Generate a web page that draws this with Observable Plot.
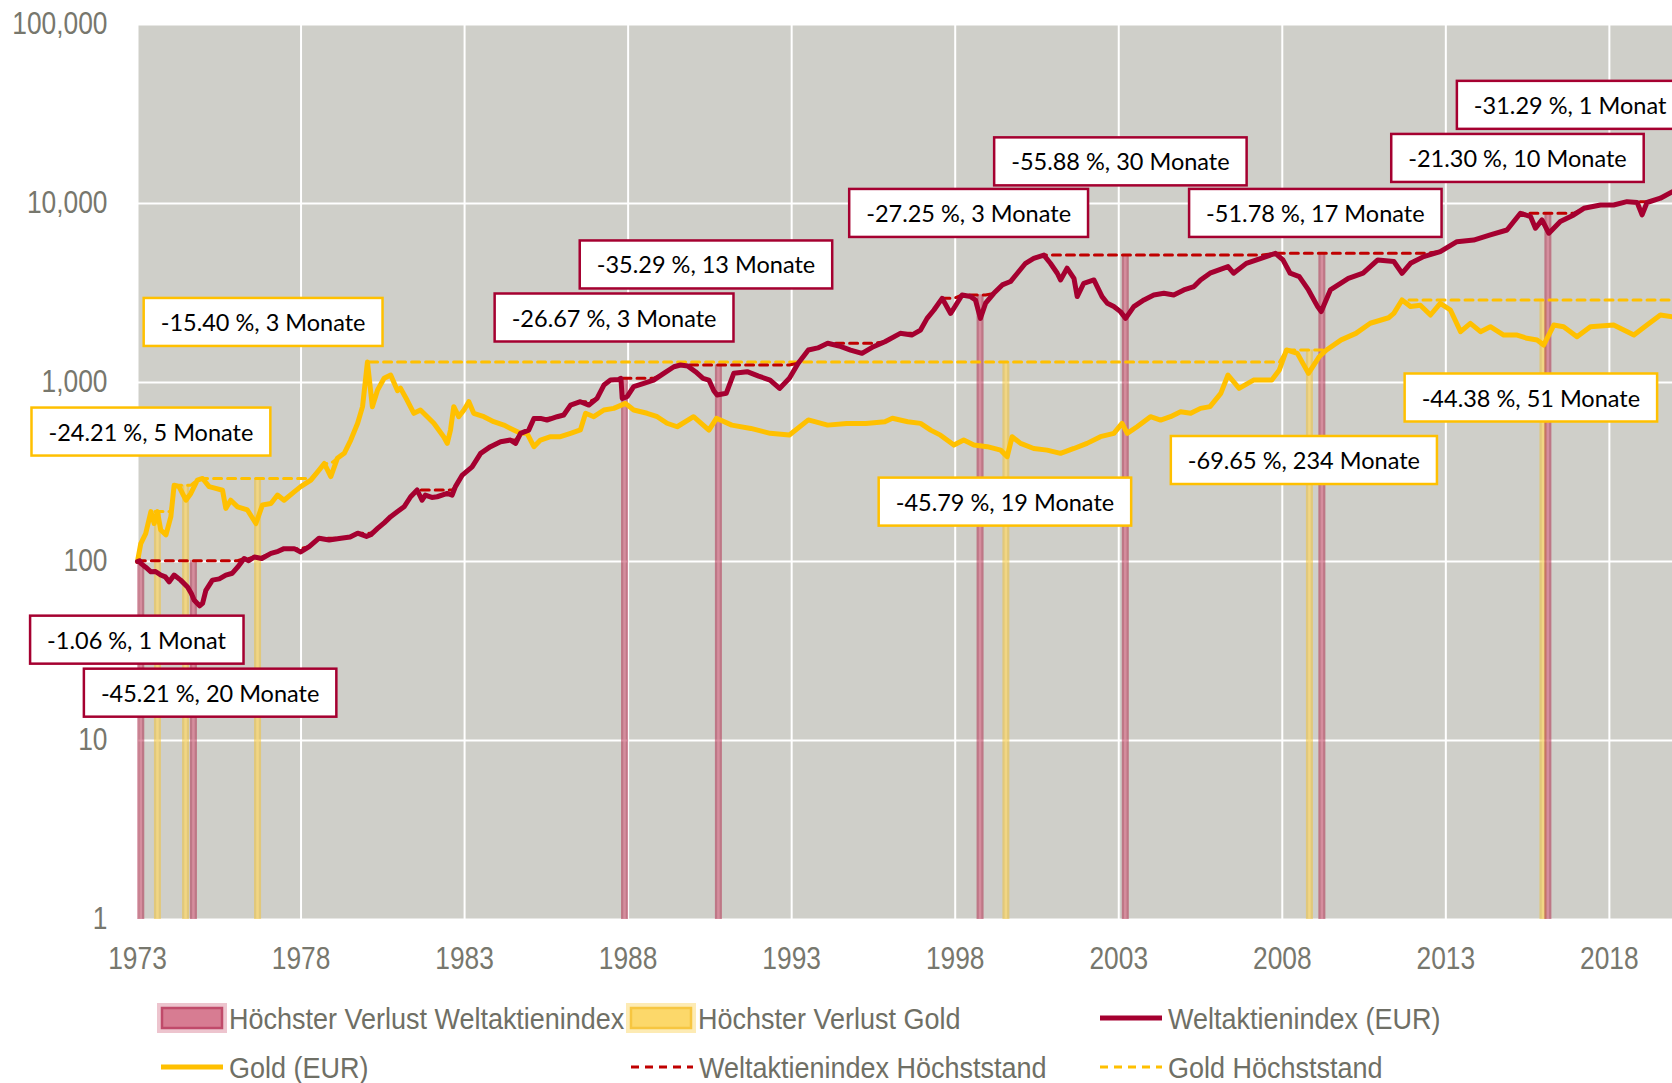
<!DOCTYPE html>
<html><head><meta charset="utf-8">
<script src="https://cdn.jsdelivr.net/npm/d3@7"></script>
<script src="https://cdn.jsdelivr.net/npm/@observablehq/plot@0.6"></script>
<style>
html,body{margin:0;padding:0;background:#fff;overflow:hidden;}
#chart svg{display:block;}
#legend{display:block;}
</style></head><body>
<div id="chart"></div>
<svg id="legend" width="1672" height="93"></svg>
<script>
// ---------- DATA ----------
const xTicks = [1973, 1978, 1983, 1988, 1993, 1998, 2003, 2008, 2013, 2018];
const yTicks = [1, 10, 100, 1000, 10000, 100000];

const worldYears = [1973.00,1973.06,1973.10,1973.25,1973.41,1973.55,1973.71,1973.85,1973.97,1974.12,1974.32,1974.53,1974.65,1974.73,1974.83,1974.90,1974.99,1975.09,1975.29,1975.50,1975.70,1975.90,1976.06,1976.26,1976.40,1976.57,1976.80,1977.08,1977.30,1977.48,1977.79,1977.99,1978.25,1978.55,1978.86,1979.22,1979.50,1979.73,1980.00,1980.13,1980.34,1980.55,1980.74,1980.95,1981.15,1981.35,1981.55,1981.70,1981.80,1982.00,1982.16,1982.47,1982.62,1982.72,1982.93,1983.23,1983.49,1983.79,1984.10,1984.40,1984.56,1984.71,1984.96,1985.12,1985.32,1985.52,1985.83,1986.03,1986.24,1986.54,1986.80,1987.05,1987.26,1987.46,1987.71,1987.78,1987.82,1987.97,1988.17,1988.48,1988.78,1989.09,1989.40,1989.60,1989.82,1990.06,1990.29,1990.47,1990.62,1990.72,1991.00,1991.23,1991.64,1991.99,1992.34,1992.63,1992.93,1993.20,1993.51,1993.80,1994.10,1994.45,1994.80,1995.15,1995.50,1995.85,1996.32,1996.67,1996.94,1997.14,1997.35,1997.60,1997.86,1997.96,1998.21,1998.47,1998.62,1998.77,1998.93,1999.18,1999.44,1999.69,1999.90,2000.15,2000.40,2000.71,2000.91,2001.12,2001.22,2001.42,2001.63,2001.73,2001.93,2002.24,2002.49,2002.65,2002.85,2003.05,2003.21,2003.46,2003.77,2004.07,2004.38,2004.68,2004.99,2005.30,2005.50,2005.79,2006.34,2006.51,2006.90,2007.35,2007.79,2008.02,2008.24,2008.52,2008.80,2009.08,2009.19,2009.47,2010.02,2010.47,2010.92,2011.41,2011.66,2011.92,2012.32,2012.83,2013.34,2013.85,2014.36,2014.87,2015.28,2015.59,2015.74,2015.94,2016.15,2016.50,2016.91,2017.22,2017.73,2018.13,2018.54,2018.85,2019.00,2019.15,2019.56,2019.93];
const worldValues = [100,101,97.6,93,87.6,88,84,82,77,84,78.7,72,66,61,58.3,56.5,58.3,69,78.7,80,84,86,93,104,101,106,104,111,114,118,118,113,121,135,132,135,137,144,138,141,153,165,178,190,202,230,251,220,235,228,230,240,235,262,304,338,402,438,467,477,457,520,542,630,630,617,644,658,748,781,748,815,968,1032,1040,1055,815,834,948,989,1032,1125,1225,1253,1238,1149,1055,1032,900,851,870,1125,1149,1085,1032,927,1055,1280,1518,1560,1656,1600,1518,1455,1585,1690,1882,1840,1963,2281,2540,2953,2432,2600,3083,3020,2890,2281,2773,3150,3509,3664,4078,4636,4943,5150,4636,4078,3741,4350,3820,3020,3584,3741,3020,2773,2656,2488,2281,2656,2892,3083,3150,3083,3289,3436,3741,4080,4440,4080,4630,4940,5270,4840,4080,3905,3290,2655,2490,3290,3820,4080,4840,4740,4075,4636,5050,5385,6120,6250,6670,7110,8820,8450,7280,8100,6820,7930,8630,9400,9810,9810,10240,10130,8630,10130,10700,11650];

const goldYears = [1973.00,1973.10,1973.25,1973.41,1973.51,1973.61,1973.71,1973.87,1974.02,1974.12,1974.27,1974.48,1974.63,1974.83,1974.99,1975.19,1975.39,1975.60,1975.70,1975.85,1976.06,1976.36,1976.62,1976.82,1977.08,1977.28,1977.48,1977.79,1977.99,1978.30,1978.55,1978.71,1978.91,1979.11,1979.32,1979.52,1979.73,1979.88,1980.03,1980.18,1980.34,1980.54,1980.74,1980.95,1981.04,1981.24,1981.45,1981.65,1981.86,1982.06,1982.21,1982.36,1982.47,1982.57,1982.67,1982.82,1982.98,1983.13,1983.28,1983.59,1983.89,1984.20,1984.50,1984.71,1984.91,1985.12,1985.32,1985.63,1985.93,1986.24,1986.54,1986.70,1986.95,1987.26,1987.56,1987.92,1988.17,1988.58,1988.89,1989.19,1989.50,1990.00,1990.47,1990.70,1991.17,1991.75,1992.34,1992.93,1993.51,1994.10,1994.68,1995.27,1995.85,1996.08,1996.55,1996.94,1997.25,1997.55,1997.96,1998.26,1998.57,1998.98,1999.39,1999.59,1999.74,2000.00,2000.40,2000.81,2001.22,2001.63,2002.03,2002.44,2002.85,2003.10,2003.26,2003.56,2003.97,2004.28,2004.58,2004.89,2005.20,2005.50,2005.79,2006.12,2006.34,2006.68,2007.12,2007.68,2007.91,2008.13,2008.46,2008.80,2009.13,2009.35,2009.80,2010.25,2010.69,2011.25,2011.41,2011.66,2011.92,2012.22,2012.53,2012.83,2013.14,2013.45,2013.75,2014.06,2014.36,2014.77,2015.18,2015.48,2015.79,2015.99,2016.30,2016.60,2017.01,2017.42,2018.13,2018.75,2019.15,2019.56,2019.93];
const goldValues = [100,126,143,190,163,190,150,141,178,267,262,220,240,285,291,262,256,250,198,220,202,194,163,207,211,235,220,245,262,285,324,353,298,377,402,477,592,733,1300,733,908,1055,1101,900,930,798,673,702,644,592,543,498,457,543,733,644,702,781,673,644,604,578,543,520,520,438,477,498,498,520,543,673,644,702,717,764,702,673,644,592,566,644,542,631,578,554,520,509,618,578,591,591,604,631,604,591,542,508,447,477,447,438,419,385,498,457,428,419,402,428,457,498,520,591,520,566,644,617,644,687,673,717,733,869,1101,927,1032,1032,1175,1520,1455,1125,1393,1520,1730,1882,2143,2300,2432,2892,2656,2700,2383,2770,2540,1923,2140,1923,2050,1842,1842,1766,1727,1619,2095,2050,1803,2050,2095,1842,2095,2383,2330];

const worldDrawdownYears = [1973.10, 1974.71, 1987.89, 1990.76, 1998.76, 2003.20, 2009.21, 2016.12];
const worldDrawdownTops  = [101, 101, 1055, 1253, 3083, 5150, 5270, 8820];
const goldDrawdownYears  = [1973.61, 1974.47, 1976.67, 1999.55, 2008.83, 2015.97];
const goldDrawdownTops   = [190, 267, 291, 1300, 1520, 2892];

const annotationLabels = ["-15.40 %, 3 Monate","-24.21 %, 5 Monate","-26.67 %, 3 Monate","-35.29 %, 13 Monate","-27.25 %, 3 Monate","-55.88 %, 30 Monate","-51.78 %, 17 Monate","-21.30 %, 10 Monate","-31.29 %, 1 Monat","-44.38 %, 51 Monate","-69.65 %, 234 Monate","-45.79 %, 19 Monate","-1.06 %, 1 Monat","-45.21 %, 20 Monate"];
const annotationSeries = ["gold","gold","world","world","world","world","world","world","world","gold","gold","gold","world","world"];
const annotationYears  = [1976.84, 1973.41, 1987.57, 1990.38, 1998.41, 2003.05, 2009.01, 2015.19, 2016.80, 2015.60, 2008.66, 1999.52, 1972.97, 1975.22];
const annotationValues = [2138, 522, 2264, 4479, 8690, 16870, 8690, 17630, 34900, 809, 362, 212, 35.9, 18.15];

const legendLabels = ["Höchster Verlust Weltaktienindex","Höchster Verlust Gold","Weltaktienindex (EUR)","Gold (EUR)","Weltaktienindex Höchststand","Gold Höchststand"];

// ---------- BUILD ----------
const CRIMSON = "#a50030", GOLD = "#ffc000", RED = "#c00000";
const SANS = "'Liberation Sans', Arial, sans-serif";
const AXIS_K = 0.85, LEGEND_K = 0.9;

const world = worldYears.map((y, i) => ({year: y, value: worldValues[i]}));
const gold = goldYears.map((y, i) => ({year: y, value: goldValues[i]}));
function runningMax(arr) {
  let m = -Infinity;
  return arr.map(d => { m = Math.max(m, d.value); return {year: d.year, value: m}; });
}
const worldPeak = runningMax(world);
const goldPeak = runningMax(gold);
const worldDD = worldDrawdownYears.map((y, i) => ({year: y, top: worldDrawdownTops[i]}));
const goldDD = goldDrawdownYears.map((y, i) => ({year: y, top: goldDrawdownTops[i]}));
const annotations = annotationLabels.map((t, i) => ({label: t, series: annotationSeries[i], year: annotationYears[i], value: annotationValues[i]}));

const chart = Plot.plot({
  width: 1672,
  height: 990,
  marginLeft: 137,
  marginRight: 0,
  marginTop: 24,
  marginBottom: 71,
  style: {background: "white", fontFamily: SANS, fontSize: "31px", color: "#77776d"},
  x: {domain: [1973, 2019.93], label: null},
  y: {type: "log", domain: [1, 100000], label: null},
  marks: [
    Plot.frame({fill: "#cfcfc9", stroke: null}),
    Plot.gridX(xTicks, {stroke: "white", strokeOpacity: 1, strokeWidth: 2}),
    Plot.gridY(yTicks, {stroke: "white", strokeOpacity: 1, strokeWidth: 2}),
    Plot.axisX(xTicks, {tickSize: 0, tickPadding: 27, tickFormat: d => String(d), fontSize: 31, label: null}),
    Plot.axisY(yTicks, {tickSize: 0, tickPadding: 30, tickFormat: d3.format(","), fontSize: 31, label: null}),
    // drawdown bars
    Plot.ruleX(goldDD, {x: "year", y1: 1, y2: "top", stroke: "#f0c23a", strokeOpacity: 0.55, strokeWidth: 7}),
    Plot.ruleX(goldDD, {x: "year", y1: 1, y2: "top", stroke: "#fbe08a", strokeOpacity: 0.6, strokeWidth: 2.5}),
    Plot.ruleX(worldDD, {x: "year", y1: 1, y2: "top", stroke: "#b0304f", strokeOpacity: 0.55, strokeWidth: 7}),
    Plot.ruleX(worldDD, {x: "year", y1: 1, y2: "top", stroke: "#e8a0b0", strokeOpacity: 0.55, strokeWidth: 2.5}),
    // high-water marks
    Plot.line(goldPeak, {x: "year", y: "value", stroke: GOLD, strokeWidth: 3, strokeDasharray: "8,6"}),
    Plot.line(worldPeak, {x: "year", y: "value", stroke: RED, strokeWidth: 3, strokeDasharray: "8,6"}),
    // series
    Plot.line(gold, {x: "year", y: "value", stroke: GOLD, strokeWidth: 5, strokeLinejoin: "round"}),
    Plot.line(world, {x: "year", y: "value", stroke: CRIMSON, strokeWidth: 5, strokeLinejoin: "round"}),
    // annotations
    Plot.text(annotations, {x: "year", y: "value", text: "label", fill: "black", fontFamily: "Lato, 'Open Sans', sans-serif", fontSize: 23.5})
  ]
});
document.getElementById("chart").appendChild(chart);

// condense axis labels horizontally around their anchor (narrow-face look)
function condense(t, k) {
  const bb = t.getBBox();
  const anchor = t.getAttribute("text-anchor") || getComputedStyle(t).textAnchor;
  const a = anchor === "end" ? bb.x + bb.width : anchor === "start" ? bb.x : bb.x + bb.width / 2;
  const tr = t.getAttribute("transform") || "";
  t.setAttribute("transform", `${tr} translate(${a},0) scale(${k},1) translate(${-a},0)`);
}
chart.querySelectorAll('g[aria-label="x-axis tick label"] text, g[aria-label="y-axis tick label"] text')
  .forEach(t => condense(t, AXIS_K));

// boxes behind annotation texts
(function () {
  const g = chart.querySelector('g[aria-label="text"]');
  if (!g) return;
  const texts = g.querySelectorAll("text");
  texts.forEach((t, i) => {
    const bb = t.getBBox();
    const r = document.createElementNS("http://www.w3.org/2000/svg", "rect");
    const cy = bb.y + bb.height / 2;
    r.setAttribute("x", bb.x - 17);
    r.setAttribute("y", cy - 24);
    r.setAttribute("width", bb.width + 34);
    r.setAttribute("height", 48);
    r.setAttribute("fill", "white");
    r.setAttribute("stroke", annotations[i].series === "gold" ? GOLD : CRIMSON);
    r.setAttribute("stroke-width", 2.5);
    const tr = t.getAttribute("transform");
    if (tr) r.setAttribute("transform", tr);
    g.insertBefore(r, t);
  });
})();

// ---------- LEGEND ----------
(function () {
  const svg = d3.select("#legend");
  const txtColor = "#6f6f65";
  const rows = [28, 77];
  const items = [
    {type: "box", fill: "#d77c92", stroke: "#c04a6a", halo: "rgba(215,124,146,0.45)", x: 161, row: 0, tx: 229},
    {type: "box", fill: "#fcd86a", stroke: "#f7c640", halo: "rgba(252,216,106,0.5)", x: 630, row: 0, tx: 698},
    {type: "line", stroke: CRIMSON, dash: null, x: 1100, row: 0, tx: 1168},
    {type: "line", stroke: GOLD, dash: null, x: 161, row: 1, tx: 229},
    {type: "line", stroke: RED, dash: "8,6", x: 631, row: 1, tx: 699},
    {type: "line", stroke: GOLD, dash: "8,6", x: 1100, row: 1, tx: 1168}
  ];
  items.forEach((it, i) => {
    const cy = rows[it.row];
    if (it.type === "box") {
      svg.append("rect").attr("x", it.x - 2).attr("y", cy - 13).attr("width", 66).attr("height", 26)
        .attr("fill", "none").attr("stroke", it.halo).attr("stroke-width", 4);
      svg.append("rect").attr("x", it.x + 1).attr("y", cy - 10).attr("width", 60).attr("height", 20)
        .attr("fill", it.fill).attr("stroke", it.stroke).attr("stroke-width", 2.5);
    } else {
      const l = svg.append("line").attr("x1", it.x).attr("x2", it.x + 62).attr("y1", cy).attr("y2", cy)
        .attr("stroke", it.stroke).attr("stroke-width", it.dash ? 3 : 5);
      if (it.dash) l.attr("stroke-dasharray", it.dash);
    }
    svg.append("text")
      .attr("transform", `translate(${it.tx},${cy}) scale(${LEGEND_K},1)`)
      .attr("dy", "0.35em")
      .attr("fill", txtColor).style("font-family", SANS).style("font-size", "30px")
      .text(legendLabels[i]);
  });
})();
</script>
</body></html>
